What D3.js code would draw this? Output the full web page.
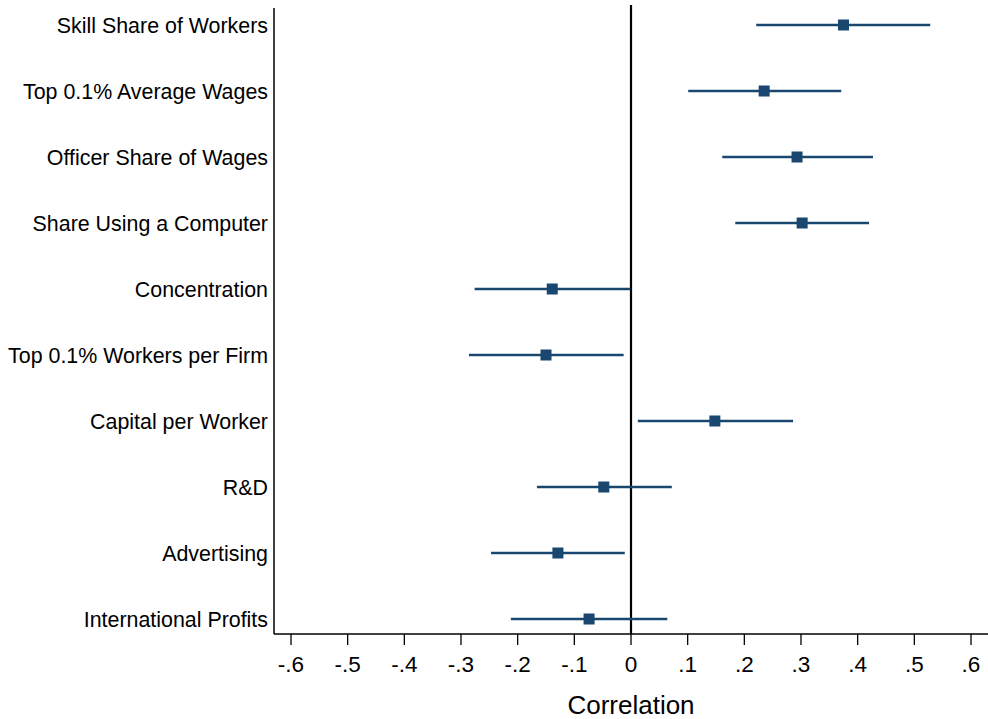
<!DOCTYPE html>
<html><head><meta charset="utf-8">
<script src="https://cdn.jsdelivr.net/npm/d3@7"></script>
<style>body{margin:0;background:#fff}svg{display:block}text{font-family:"Liberation Sans",Arial,Helvetica,sans-serif;fill:#000}</style>
</head><body><svg id="c" width="988" height="719"></svg>
<script>
const categories = ["Skill Share of Workers","Top 0.1% Average Wages","Officer Share of Wages","Share Using a Computer","Concentration","Top 0.1% Workers per Firm","Capital per Worker","R&D","Advertising","International Profits"];
const estimates = [0.375,0.235,0.293,0.302,-0.139,-0.150,0.148,-0.048,-0.129,-0.074];
const lower = [0.221,0.101,0.161,0.184,-0.276,-0.286,0.012,-0.166,-0.247,-0.212];
const upper = [0.528,0.371,0.427,0.420,-0.001,-0.013,0.286,0.072,-0.011,0.064];
const xTicks = [-0.6,-0.5,-0.4,-0.3,-0.2,-0.1,0,0.1,0.2,0.3,0.4,0.5,0.6];
const xTitle = "Correlation";
const color = "#1a476f";

const svg = d3.select("#c");
const L = 274, R = 988, T = 0, B = 634;
const x = d3.scaleLinear().domain([-0.6,0.6]).range([291,971]);
const y = d3.scalePoint().domain(categories).range([25,619]);

// zero line
svg.append("line").attr("x1",x(0)).attr("x2",x(0)).attr("y1",T+5).attr("y2",B)
  .attr("stroke","#000").attr("stroke-width",2.2);

const g = svg.selectAll("g.row").data(categories).join("g").attr("class","row");
g.append("line").attr("x1",(d,i)=>x(lower[i])).attr("x2",(d,i)=>x(upper[i]))
  .attr("y1",d=>y(d)).attr("y2",d=>y(d)).attr("stroke",color).attr("stroke-width",2.6);
g.append("rect").attr("x",(d,i)=>x(estimates[i])-5.5).attr("y",d=>y(d)-5.5)
  .attr("width",11).attr("height",11).attr("fill",color);

// y axis
svg.append("line").attr("x1",L).attr("x2",L).attr("y1",T+8).attr("y2",B).attr("stroke","#000").attr("stroke-width",1.5);
svg.selectAll("text.ylab").data(categories).join("text").attr("class","ylab")
  .attr("x",268).attr("y",d=>y(d)).attr("dy","0.36em").attr("text-anchor","end")
  .attr("font-size",21.4).text(d=>d);

// x axis
const xa = svg.append("g").attr("transform",`translate(0,${B})`);
xa.append("line").attr("x1",L).attr("x2",R).attr("stroke","#000").attr("stroke-width",1.5);
const fmt = v => v===0 ? "0" : (v<0?"-":"") + String(Math.abs(+v.toFixed(1))).replace(/^0/,"");
xa.selectAll("line.t").data(xTicks).join("line").attr("class","t")
  .attr("x1",d=>x(d)).attr("x2",d=>x(d)).attr("y1",0).attr("y2",11).attr("stroke","#000").attr("stroke-width",1.3);
xa.selectAll("text").data(xTicks).join("text").attr("x",d=>x(d)).attr("y",38)
  .attr("text-anchor","middle").attr("font-size",22.5).text(fmt);

svg.append("text").attr("x",631).attr("y",714).attr("text-anchor","middle").attr("font-size",26).text(xTitle);
</script></body></html>
